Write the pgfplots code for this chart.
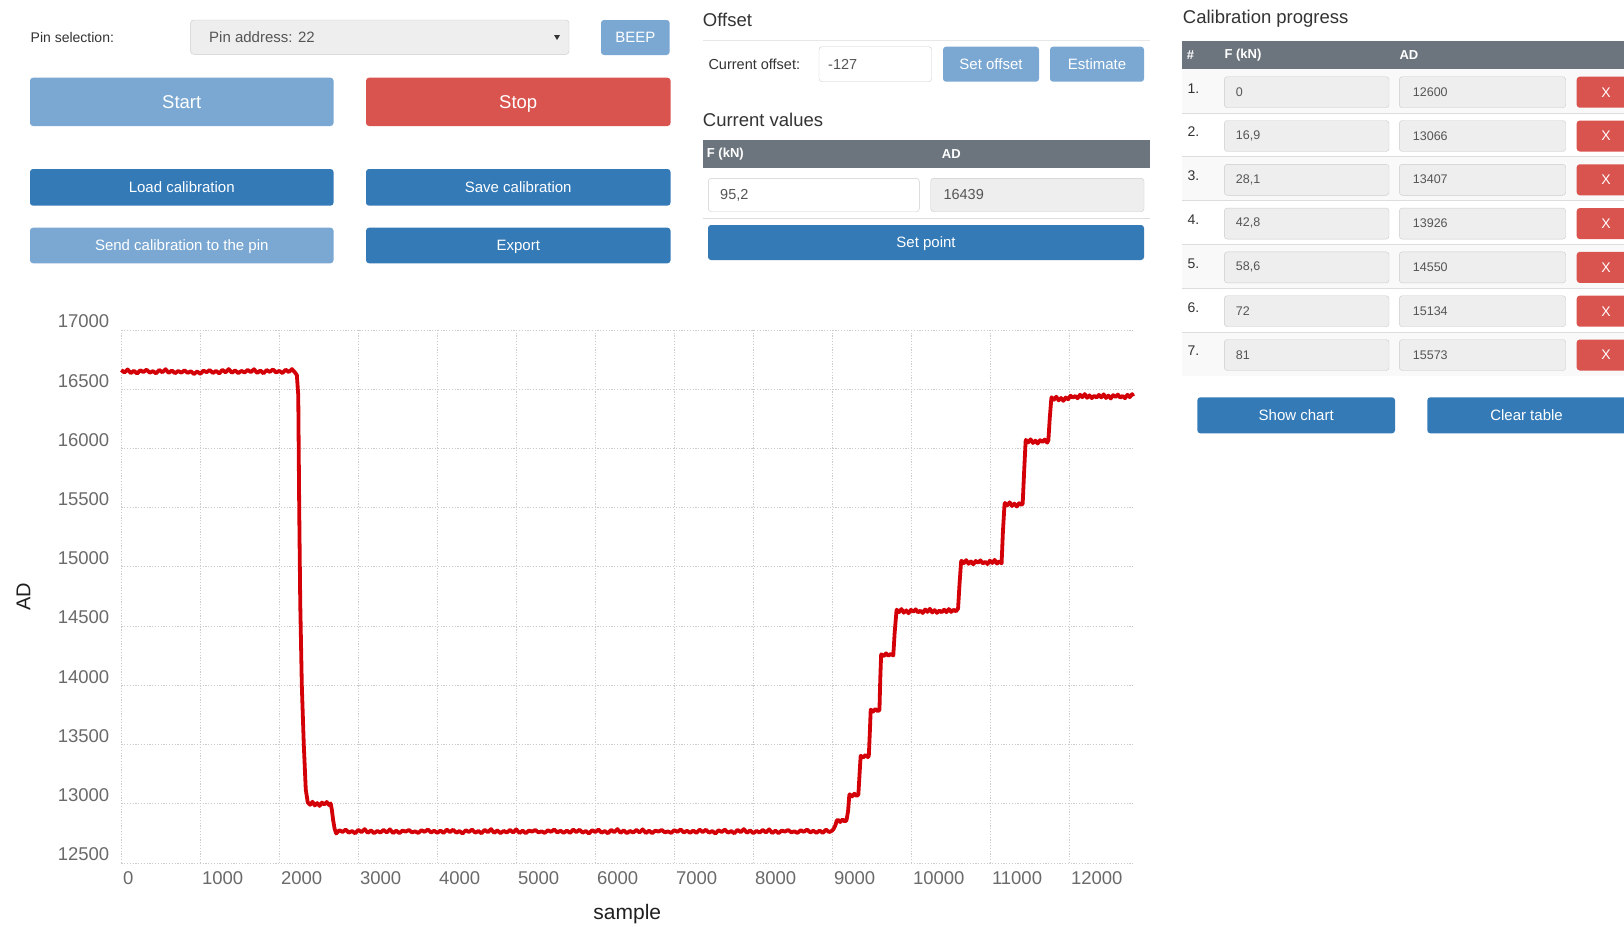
\documentclass[border=0pt]{standalone}
\usepackage{pgfplots}
\pgfplotsset{compat=1.18}
\usepackage{fontspec}
\setmainfont{Liberation Sans}
\definecolor{btnblue}{HTML}{337AB7}
\definecolor{btnlight}{HTML}{7AA8D2}
\definecolor{btnred}{HTML}{D9534F}
\definecolor{hdrgray}{HTML}{6C757D}
\definecolor{inpgray}{HTML}{EEEEEE}
\definecolor{inpborder}{HTML}{CCCCCC}
\definecolor{txt}{HTML}{333333}
\definecolor{inptxt}{HTML}{555555}
\definecolor{ticktxt}{HTML}{6A6A6A}
\definecolor{curve}{HTML}{D40008}
\definecolor{stripe}{HTML}{F9F9F9}
\definecolor{sepline}{HTML}{DDDDDD}
\newcommand{\fs}[1]{\fontsize{#1}{#1}\selectfont}
\newcommand{\btn}[7]{%
  \fill[#5,rounded corners=3pt] (#1,#2) rectangle (#3,#4);
  \node[text=white,font=\fs{#6},inner sep=0pt,anchor=base] at ({(#1+#3)/2},{(#2+#4)/2+0.358*#6}) {#7};}
\newcommand{\calrow}[4]{% top, num, F, AD
  \node[anchor=west,inner sep=0pt,font=\fs{14},text=txt] at (1187.3,{#1+19}) {#2.};
  \draw[fill=inpgray,draw=inpborder,rounded corners=3pt] (1224.3,{#1+7.4}) rectangle (1389,{#1+38.4});
  \node[anchor=west,inner sep=0pt,font=\fs{12.5},text=inptxt] at (1235.7,{#1+22.6}) {#3};
  \draw[fill=inpgray,draw=inpborder,rounded corners=3pt] (1399.3,{#1+7.4}) rectangle (1565.7,{#1+38.4});
  \node[anchor=west,inner sep=0pt,font=\fs{12.5},text=inptxt] at (1412.7,{#1+22.6}) {#4};
  \fill[btnred,rounded corners=3pt] (1576.7,{#1+7.4}) rectangle (1640,{#1+38.4});
  \node[inner sep=0pt,font=\fs{14},text=white] at (1606,{#1+22.9}) {X};}
\begin{document}
\begin{tikzpicture}[x=1pt,y=-1pt]
\fill[white] (0,0) rectangle (1624,926);
\path[use as bounding box] (0,0) rectangle (1624,926);
% ---------- left controls ----------
\node[anchor=west,inner sep=0pt,font=\fs{14},text=txt] at (30.5,37.5) {Pin selection:};
\draw[fill=inpgray,draw=inpborder,rounded corners=3pt] (190.6,20) rectangle (569,54.3);
\node[anchor=west,inner sep=0pt,font=\fs{15},text=inptxt] at (209,37.5) {Pin address: 22};
\fill[txt] (554,35) -- (560,35) -- (557,40) -- cycle;
\btn{601}{20}{669.6}{55}{btnlight}{15}{BEEP}
\btn{30}{77.7}{333.5}{126}{btnlight}{18.5}{Start}
\btn{366}{77.7}{670.5}{126}{btnred}{18.5}{Stop}
\btn{30}{169}{333.5}{205.7}{btnblue}{15}{Load calibration}
\btn{366}{169}{670.5}{205.7}{btnblue}{15}{Save calibration}
\btn{30}{227.7}{333.5}{263.3}{btnlight}{15}{Send calibration to the pin}
\btn{366}{227.7}{670.5}{263.3}{btnblue}{15}{Export}
% ---------- middle panel ----------
\node[anchor=west,inner sep=0pt,font=\fs{18.5},text=txt] at (702.7,20) {Offset};
\draw[sepline!70,line width=1pt] (702.7,40.7) -- (1150,40.7);
\node[anchor=west,inner sep=0pt,font=\fs{14.5},text=txt] at (708.3,64.3) {Current offset:};
\draw[fill=white,draw=inpborder,rounded corners=3pt] (819,46.7) rectangle (931.7,81.7);
\node[anchor=west,inner sep=0pt,font=\fs{14.5},text=inptxt] at (828,64.3) {-127};
\btn{943}{46.7}{1039}{81.7}{btnlight}{15}{Set offset}
\btn{1050}{46.7}{1144}{81.7}{btnlight}{15}{Estimate}
\node[anchor=west,inner sep=0pt,font=\fs{18.5},text=txt] at (702.7,120) {Current values};
\fill[hdrgray] (702.7,140) rectangle (1150,168.3);
\node[anchor=west,inner sep=0pt,font=\bfseries\fs{13},text=white] at (706.7,154) {F (kN)};
\node[anchor=west,inner sep=0pt,font=\bfseries\fs{13},text=white] at (941.7,154) {AD};
\draw[fill=white,draw=inpborder,rounded corners=3pt] (708.3,178.3) rectangle (919.3,211.7);
\node[anchor=west,inner sep=0pt,font=\fs{14.5},text=inptxt] at (720,195) {95,2};
\draw[fill=inpgray,draw=inpborder,rounded corners=3pt] (930.7,178.3) rectangle (1144,211.7);
\node[anchor=west,inner sep=0pt,font=\fs{14.5},text=inptxt] at (943.3,195) {16439};
\draw[sepline,line width=1pt] (702.7,218) -- (1150,218);
\btn{708}{225}{1144}{260}{btnblue}{15}{Set point}
% ---------- right panel ----------
\node[anchor=west,inner sep=0pt,font=\fs{18.5},text=txt] at (1182.7,18.3) {Calibration progress};
\fill[hdrgray] (1181.7,40.7) rectangle (1624,69.3);
\node[anchor=west,inner sep=0pt,font=\bfseries\fs{13},text=white] at (1186.7,55) {\#};
\node[anchor=west,inner sep=0pt,font=\bfseries\fs{13},text=white] at (1224.3,55) {F (kN)};
\node[anchor=west,inner sep=0pt,font=\bfseries\fs{13},text=white] at (1399.3,55) {AD};
\fill[stripe] (1181.7,69.3) rectangle (1624,113.1);
\fill[stripe] (1181.7,156.9) rectangle (1624,200.7);
\fill[stripe] (1181.7,244.5) rectangle (1624,288.3);
\fill[stripe] (1181.7,332.1) rectangle (1624,375.9);
\foreach \t in {113.1,156.9,200.7,244.5,288.3,332.1}{\draw[sepline,line width=1pt] (1181.7,\t) -- (1624,\t);}
\calrow{69.3}{1}{0}{12600}
\calrow{113.1}{2}{16,9}{13066}
\calrow{156.9}{3}{28,1}{13407}
\calrow{200.7}{4}{42,8}{13926}
\calrow{244.5}{5}{58,6}{14550}
\calrow{288.3}{6}{72}{15134}
\calrow{332.1}{7}{81}{15573}
\fill[btnblue,rounded corners=3pt] (1197.3,397.3) rectangle (1395,433.3);
\node[text=white,font=\fs{15},inner sep=0pt] at (1296.2,415.3) {Show chart};
\fill[btnblue,rounded corners=3pt] (1427.3,397.3) rectangle (1640,433.3);
\node[text=white,font=\fs{15},inner sep=0pt] at (1526.5,415.3) {Clear table};
% ---------- chart ----------
\begin{axis}[
  at={(121.3pt,-330pt)}, anchor=north west,
  scale only axis, width=1012pt, height=533pt,
  xmin=0, xmax=12810, ymin=12500, ymax=17000,
  scaled ticks=false,
  clip=false,
  axis line style={draw=none},
  major tick length=0pt,
  grid=major,
  major grid style={black!20, dash pattern=on 1.2pt off 1.6pt, line width=0.9pt},
  xtick={0,1000,2000,3000,4000,5000,6000,7000,8000,9000,10000,11000,12000},
  xticklabels={0,1000,2000,3000,4000,5000,6000,7000,8000,9000,10000,11000,12000},
  ytick={12500,13000,13500,14000,14500,15000,15500,16000,16500,17000},
  yticklabels={12500,13000,13500,14000,14500,15000,15500,16000,16500,17000},
  tick label style={font=\fs{18.5}, text=ticktxt},
  xticklabel style={anchor=west, inner sep=0pt, xshift=1.5pt, yshift=-14.7pt},
  yticklabel style={anchor=east, inner sep=0pt, xshift=-11.8pt, yshift=8.5pt},
  xlabel={sample}, ylabel={AD},
  xlabel style={at={(axis description cs:0.5,-0.0962)}, anchor=center, font=\fs{21}, text=black!88},
  ylabel style={at={(axis description cs:-0.0967,0.5)}, anchor=center, rotate=0, font=\fs{20}, text=black!88},
]
\addplot[curve, line width=3.8pt, line join=round] coordinates {
(0,16662) (40,16641) (80,16667) (120,16636) (160,16656) (200,16632) (240,16660) (280,16645)
(320,16665) (360,16639) (400,16653) (440,16634) (480,16663) (520,16643) (560,16669) (600,16638)
(640,16658) (680,16635) (720,16654) (760,16640) (800,16659) (840,16638) (880,16652) (920,16628)
(960,16650) (1000,16630) (1040,16657) (1080,16644) (1120,16662) (1160,16637) (1200,16655) (1240,16633)
(1280,16664) (1320,16642) (1360,16670) (1400,16639) (1440,16659) (1480,16636) (1520,16655) (1560,16641)
(1600,16663) (1640,16644) (1680,16669) (1720,16637) (1760,16658) (1800,16634) (1840,16662) (1880,16646)
(1920,16667) (1960,16641) (2000,16655) (2040,16636) (2080,16665) (2120,16645) (2160,16670) (2200,16640)
(2222,16620)
(2240,16450) (2252,15500) (2265,14700) (2285,14000) (2310,13500) (2335,13120) (2360,13012)
(2390,12991) (2420,13017) (2450,12986) (2480,13006) (2510,12982) (2540,13010) (2570,12995) (2600,13015)
(2630,12989) (2650,13003)
(2665,12950) (2682,12860) (2700,12790)
(2720,12749) (2760,12777) (2800,12762) (2840,12782) (2880,12756) (2920,12770) (2960,12751) (3000,12780)
(3040,12760) (3080,12786) (3120,12755) (3160,12775) (3200,12752) (3240,12771) (3280,12757) (3320,12779)
(3360,12758) (3400,12784) (3440,12753) (3480,12773)
(3520,12752) (3560,12774) (3600,12765) (3640,12779) (3680,12759) (3720,12767) (3760,12754) (3800,12777)
(3840,12763) (3880,12783) (3920,12758) (3960,12772) (4000,12755) (4040,12774) (4080,12754) (4120,12782)
(4160,12761) (4200,12781) (4240,12756) (4280,12770)
(4320,12749) (4360,12777) (4400,12762) (4440,12782) (4480,12756) (4520,12770) (4560,12751) (4600,12780)
(4640,12760) (4680,12786) (4720,12755) (4760,12775) (4800,12752) (4840,12771) (4880,12757) (4920,12779)
(4960,12758) (5000,12784) (5040,12753) (5080,12773)
(5120,12752) (5160,12774) (5200,12765) (5240,12779) (5280,12759) (5320,12767) (5360,12754) (5400,12777)
(5440,12763) (5480,12783) (5520,12758) (5560,12772) (5600,12755) (5640,12774) (5680,12754) (5720,12782)
(5760,12761) (5800,12781) (5840,12756) (5880,12770)
(5920,12749) (5960,12777) (6000,12762) (6040,12782) (6080,12756) (6120,12770) (6160,12751) (6200,12780)
(6240,12760) (6280,12786) (6320,12755) (6360,12775) (6400,12752) (6440,12771) (6480,12757) (6520,12779)
(6560,12758) (6600,12784) (6640,12753) (6680,12773)
(6720,12752) (6760,12774) (6800,12765) (6840,12779) (6880,12759) (6920,12767) (6960,12754) (7000,12777)
(7040,12763) (7080,12783) (7120,12758) (7160,12772) (7200,12755) (7240,12774) (7280,12754) (7320,12782)
(7360,12761) (7400,12781) (7440,12756) (7480,12770)
(7520,12749) (7560,12777) (7600,12762) (7640,12782) (7680,12756) (7720,12770) (7760,12751) (7800,12780)
(7840,12760) (7880,12786) (7920,12755) (7960,12775) (8000,12752) (8040,12771) (8080,12757) (8120,12779)
(8160,12758) (8200,12784) (8240,12753) (8280,12773)
(8320,12752) (8360,12774) (8400,12765) (8440,12779) (8480,12759) (8520,12767) (8560,12754) (8600,12777)
(8640,12763) (8680,12783) (8720,12758) (8760,12772) (8800,12755) (8840,12774) (8880,12754) (8920,12782)
(8960,12761) (8990,12770)
(9015,12785) (9040,12820) (9055,12855)
(9070,12865) (9100,12846) (9130,12868) (9160,12850) (9180,12862)
(9200,12940) (9215,13070) (9220,13080) (9250,13062) (9280,13085) (9310,13066) (9330,13078)
(9345,13250) (9358,13395) (9360,13405) (9390,13390) (9420,13412) (9450,13394) (9462,13404)
(9475,13600) (9486,13790) (9488,13795) (9515,13778) (9545,13800) (9575,13782) (9597,13792)
(9607,14050) (9618,14255) (9620,14262) (9650,14246) (9680,14270) (9710,14250) (9740,14265) (9772,14252)
(9790,14450) (9812,14625)
(9815,14639) (9845,14618) (9875,14644) (9905,14613) (9935,14633) (9965,14609) (9995,14637) (10025,14622)
(10055,14642) (10085,14616) (10115,14630) (10145,14611) (10175,14640) (10205,14620) (10235,14646) (10265,14615)
(10295,14635) (10325,14612) (10355,14631) (10385,14617) (10415,14639) (10445,14618) (10475,14644) (10505,14620)
(10535,14638) (10565,14625) (10592,14648)
(10610,14850) (10630,15040)
(10635,15052) (10665,15031) (10695,15057) (10725,15026) (10755,15046) (10785,15022) (10815,15050) (10845,15035)
(10875,15055) (10905,15029) (10935,15043) (10965,15024) (10995,15053) (11025,15033) (11055,15059) (11085,15028)
(11115,15048) (11143,15030)
(11160,15300) (11180,15528)
(11185,15540) (11215,15519) (11245,15545) (11275,15514) (11305,15534) (11335,15510) (11365,15538) (11395,15523)
(11410,15535)
(11428,15800) (11447,16060)
(11450,16072) (11480,16051) (11510,16077) (11540,16046) (11570,16066) (11600,16042) (11630,16070) (11660,16055)
(11690,16075) (11720,16049) (11735,16068)
(11752,16250) (11772,16418)
(11775,16432) (11805,16411) (11835,16437) (11865,16406) (11895,16426) (11925,16402) (11955,16430) (11985,16415)
(12015,16445) (12045,16429) (12075,16443) (12105,16424) (12135,16453) (12165,16433) (12195,16459) (12225,16428)
(12255,16448) (12285,16425) (12315,16444) (12345,16430) (12375,16452) (12405,16431) (12435,16457) (12465,16426)
(12495,16446) (12525,16422) (12555,16450) (12585,16435) (12615,16455) (12645,16429) (12675,16443) (12705,16424)
(12735,16453) (12765,16433) (12795,16459) (12810,16440)
};
\end{axis}
\end{tikzpicture}
\end{document}
